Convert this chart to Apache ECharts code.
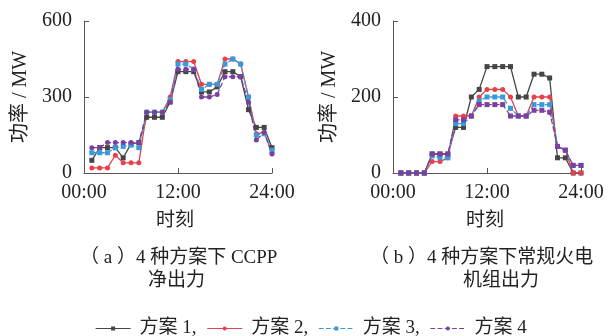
<!DOCTYPE html>
<html>
<head>
<meta charset="utf-8">
<script src="https://cdn.jsdelivr.net/npm/echarts@6/dist/echarts.min.js"></script>
<style>
  html, body { margin: 0; padding: 0; background: #fff; }
  #chart { width: 608px; height: 336px; }
</style>
</head>
<body>
<div id="chart"></div>
<script>
// Hour of day for each dispatch interval
const hours = [1,2,3,4,5,6,7,8,9,10,11,12,13,14,15,16,17,18,19,20,21,22,23,24];
const schemeNames = ['方案1', '方案2', '方案3', '方案4'];
const xTickLabels = ['00:00', '12:00', '24:00'];

// (a) CCPP net output, MW
const ccppScheme1 = [50,100,100,100,60,115,120,220,220,220,280,400,400,400,320,320,340,400,400,380,250,180,180,100];
const ccppScheme2 = [20,20,20,70,40,40,40,240,240,240,300,440,440,440,350,350,350,450,450,430,300,155,160,80];
const ccppScheme3 = [80,80,80,100,105,110,100,240,240,240,290,430,430,410,330,350,350,430,450,430,300,150,155,90];
const ccppScheme4 = [100,100,120,120,120,120,120,240,240,240,280,410,410,410,300,300,310,380,380,380,280,130,160,75];

// (b) Conventional thermal unit output, MW
const thermalScheme1 = [0,0,0,0,50,50,50,120,120,200,220,280,280,280,280,200,200,260,260,250,40,40,0,0];
const thermalScheme2 = [0,0,0,0,30,30,40,150,150,150,200,220,220,220,200,150,150,200,200,200,70,60,0,0];
const thermalScheme3 = [0,0,0,0,45,40,40,130,130,150,190,200,200,200,170,150,150,180,180,180,70,60,20,20];
const thermalScheme4 = [0,0,0,0,50,50,50,140,140,150,180,180,180,180,150,150,150,165,165,160,70,60,20,20];

const serif = '"Liberation Serif", "Noto Sans CJK SC", serif';
const colors = ['#454545', '#e8404a', '#3a9ad9', '#7b3f9e'];
const lineTypes = ['solid', 'solid', 'dashed', 'dashed'];
const symbolsA = ['rect', 'circle', 'rect', 'circle'];
const symbolsB = ['rect', 'circle', 'rect', 'rect'];

const pair = ys => hours.map((h, i) => [h, ys[i]]);

function xAxis(gridIndex) {
  return {
    type: 'value', gridIndex, min: 0, max: 24, interval: 12,
    axisLine: { lineStyle: { color: '#555', width: 1 } },
    axisTick: { inside: true, length: 5, lineStyle: { color: '#555' } },
    splitLine: { show: false },
    axisLabel: {
      margin: 10, color: '#222', fontFamily: serif, fontSize: 20,
      formatter: v => xTickLabels[v / 12]
    }
  };
}
function yAxis(gridIndex, max, interval) {
  return {
    type: 'value', gridIndex, min: 0, max, interval,
    name: '功率 / MW', nameLocation: 'middle', nameGap: 53, nameRotate: 90,
    nameTextStyle: { color: '#222', fontFamily: serif, fontSize: 20 },
    axisLine: { show: true, lineStyle: { color: '#555', width: 1 } },
    axisTick: { show: true, inside: true, length: 5, lineStyle: { color: '#555' } },
    splitLine: { show: false },
    axisLabel: { margin: 12, color: '#222', fontFamily: serif, fontSize: 20 }
  };
}
function series(idx, data, axisIndex, symbols) {
  return {
    name: schemeNames[idx], type: 'line', data: pair(data),
    xAxisIndex: axisIndex, yAxisIndex: axisIndex,
    symbol: symbols[idx], symbolSize: 5, color: colors[idx],
    lineStyle: { width: 1.3, type: lineTypes[idx], color: colors[idx] },
    itemStyle: { color: colors[idx] },
    animation: false
  };
}

const setA = [ccppScheme1, ccppScheme2, ccppScheme3, ccppScheme4];
const setB = [thermalScheme1, thermalScheme2, thermalScheme3, thermalScheme4];

const captionFont = '19px ' + serif;
const chart = echarts.init(document.getElementById('chart'), null, { renderer: 'canvas' });
chart.setOption({
  backgroundColor: '#fff',
  animation: false,
  grid: [
    { left: 84, top: 21, width: 188, height: 152 },
    { left: 393, top: 21, width: 188, height: 152 }
  ],
  xAxis: [xAxis(0), xAxis(1)],
  yAxis: [yAxis(0, 600, 300), yAxis(1, 400, 200)],
  legend: {
    data: schemeNames,
    left: 90, top: 314, itemWidth: 35, itemHeight: 5, itemGap: 10,
    itemStyle: { borderWidth: 0 },
    lineStyle: { width: 1.2 },
    formatter: n => {
      const label = n.replace('方案', '方案 ');
      return n === '方案4' ? label : label + ',';
    },
    textStyle: { color: '#222', fontFamily: serif, fontSize: 19, padding: [0, 0, 0, 4] }
  },
  graphic: [
    { type: 'text', left: 156, top: 212, style: { text: '时刻', font: captionFont, fill: '#222' } },
    { type: 'text', left: 466, top: 212, style: { text: '时刻', font: captionFont, fill: '#222' } },
    { type: 'text', left: 80, top: 249, style: { text: '（ a ）4 种方案下 CCPP', font: captionFont, fill: '#222' } },
    { type: 'text', left: 148, top: 272, style: { text: '净出力', font: captionFont, fill: '#222' } },
    { type: 'text', left: 370, top: 249, style: { text: '（ b ）4 种方案下常规火电', font: captionFont, fill: '#222' } },
    { type: 'text', left: 463, top: 272, style: { text: '机组出力', font: captionFont, fill: '#222' } }
  ],
  series: [
    ...setA.map((d, i) => series(i, d, 0, symbolsA)),
    ...setB.map((d, i) => series(i, d, 1, symbolsB))
  ]
});
</script>
</body>
</html>
